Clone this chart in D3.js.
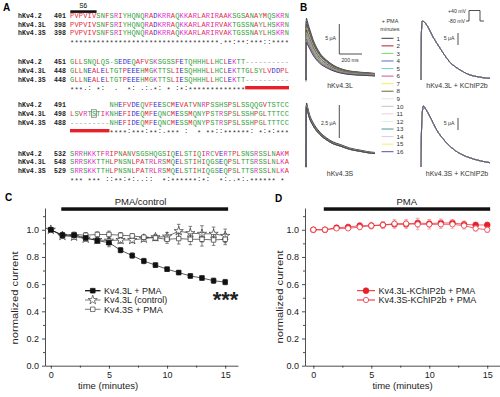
<!DOCTYPE html>
<html>
<head>
<meta charset="utf-8">
<script src="https://cdnjs.cloudflare.com/ajax/libs/d3/7.8.5/d3.min.js"></script>
<style>
    body { margin: 0; background: #fff; }
    svg { display: block; font-family: "Liberation Sans", Arial, sans-serif; }
</style>
</head>
<body>
<div id="fig"></div>
<script>

/* ---------- A: alignment ---------- */
const seqNames = ["hKv4.2", "hKv4.3L", "hKv4.3S"];
const blockStarts = [[401, 398, 398], [451, 448, 448], [491, 498, 488], [532, 548, 529]];
const blocks = [
    ["PVPVIVSNFSRIYHQNQRADKRRAQKKARLARIRAAKSGSANAYMQSKRN",
     "PVPVIVSNFSRIYHQNQRADKRRAQKKARLARIRVAKTGSSNAYLHSKRN",
     "PVPVIVSNFSRIYHQNQRADKRRAQKKARLARIRVAKTGSSNAYLHSKRN"],
    ["GLLSNQLQS-SEDEQAFVSKSGSSFETQHHHLLHCLEKTT----------",
     "GLLNEALELTGTPEEEHMGKTTSLIESQHHHLLHCLEKTTGLSYLVDDPL",
     "GLLNEALELTGTPEEEHMGKTTSLIESQHHHLLHCLEKTT----------"],
    ["         NHEFVDEQVFEESCMEVATVNRPSSHSPSLSSQQGVTSTCC",
     "LSVRTSTIKNHEFIDEQMFEQNCMESSMQNYPSTRSPSLSSHPGLTTTCC",
     "---------NHEFIDEQMFEQNCMESSMQNYPSTRSPSLSSHPGLTTTCC"],
    ["SRRHKKTFRIPNANVSGSHQGSIQELSTIQIRCVERTPLSNSRSSLNAKM",
     "SRRSKKTTHLPNSNLPATRLRSMQELSTIHIQGSEQPSLTTSRSSLNLKA",
     "SRRSKKTTHLPNSNLPATRLRSMQELSTIHIQGSEQPSLTTSRSSLNLKA"]
];
const consensus = [
    "**********************************.**:**:***::****",
    "***.: *:  .  *: .:.*: * :*:*************          ",
    "         ****:***:**:.*** :  * **::******: *:*:***",
    "*** *** ::**:*:..::  *:******:*:  *:..*:.****** * "
];
// 19-aa insert of the long isoform (block, first col, last col)
const insertMarks = [[1, 40, 50], [2, 0, 9]];

/* ---------- B: current traces ---------- */
const legendMinutes = [1, 2, 3, 4, 5, 6, 7, 8, 9, 10, 11, 12, 13, 14, 15, 16];
const traceColors = ["#3c3c3c", "#b0202e", "#6ee06e", "#5a6cc0", "#68d4c4", "#c45a98", "#f2f060", "#6c6a38",
                     "#e6e6e6", "#c4c4c4", "#f0cede", "#dcf0f0", "#4e9494", "#d6cce8", "#f4f070", "#5c4ca0"];
const timeL = [0, 2, 4, 10, 20, 35, 60, 90, 120, 180, 235, 300, 380, 470, 555, 600];
const currL = [0, 9.5, 10.3, 9.9, 9.2, 8.3, 6.8, 5.5, 4.5, 3.3, 2.5, 1.9, 1.5, 1.3, 1.17, 1.1];
const timeS = [0, 2, 5, 15, 30, 60, 120, 180, 235, 300, 380, 470, 555, 600];
const currS = [0, 4.5, 4.85, 4.5, 4.0, 3.4, 2.65, 2.2, 1.9, 1.7, 1.44, 1.28, 1.14, 1.1];
const timeLK = [0, 4, 10, 25, 50, 105, 165, 250, 340, 425, 500, 570, 600];
const currLK = [0, 20, 24.6, 24.3, 22.9, 17.9, 13.3, 7.5, 4.2, 2.1, 1.3, 0.8, 0.7];
const timeSK = [0, 6, 20, 40, 78, 137, 224, 311, 398, 513, 600];
const currSK = [0, 18, 25.4, 24.2, 21, 15.4, 10, 6.4, 4.3, 2.6, 1.8];

/* ---------- C / D: normalized current vs time ---------- */
const minutes = [0, 1, 2, 3, 4, 5, 6, 7, 8, 9, 10, 11, 12, 13, 14, 15];
const kv43lPma     = [1.0, 0.96, 0.96, 0.94, 0.92, 0.905, 0.85, 0.81, 0.77, 0.74, 0.71, 0.685, 0.66, 0.645, 0.625, 0.615];
const kv43lPmaErr  = [0, 0.02, 0.015, 0.015, 0.02, 0.03, 0.02, 0.02, 0.02, 0.015, 0.015, 0.015, 0.015, 0.015, 0.02, 0.02];
const kv43lCtrl    = [1.0, 0.955, 0.95, 0.935, 0.925, 0.92, 0.925, 0.925, 0.935, 0.945, 0.95, 0.99, 0.975, 0.97, 0.97, 0.955];
const kv43lCtrlErr = [0, 0.02, 0.02, 0.02, 0.025, 0.03, 0.025, 0.02, 0.02, 0.02, 0.03, 0.05, 0.05, 0.06, 0.05, 0.05];
const kv43sPma     = [1.0, 0.96, 0.965, 0.96, 0.965, 0.965, 0.96, 0.955, 0.945, 0.94, 0.93, 0.935, 0.93, 0.93, 0.925, 0.93];
const kv43sPmaErr  = [0, 0.015, 0.015, 0.02, 0.02, 0.025, 0.02, 0.015, 0.015, 0.02, 0.03, 0.04, 0.04, 0.05, 0.04, 0.04];
const kv43lKPma    = [1.0, 1.0, 1.015, 1.02, 1.03, 1.03, 1.035, 1.04, 1.04, 1.05, 1.045, 1.05, 1.05, 1.04, 1.035, 1.035];
const kv43lKPmaErr = [0, 0.01, 0.015, 0.02, 0.02, 0.025, 0.025, 0.03, 0.03, 0.035, 0.03, 0.03, 0.025, 0.025, 0.02, 0.02];
const kv43sKPma    = [1.0, 1.0, 1.01, 1.01, 1.02, 1.03, 1.035, 1.045, 1.045, 1.04, 1.04, 1.04, 1.04, 1.03, 1.01, 1.0];
const kv43sKPmaErr = [0, 0.01, 0.01, 0.015, 0.02, 0.02, 0.025, 0.03, 0.03, 0.04, 0.035, 0.03, 0.03, 0.025, 0.02, 0.02];
const yTicks = [0, 0.2, 0.4, 0.6, 0.8, 1.0];
const yMinor = [0.1, 0.3, 0.5, 0.7, 0.9, 1.1];
const xTicks = [0, 5, 10, 15];
const xMinor = [2.5, 7.5, 12.5];
const pmaPeriod = [0.9, 15.25];

const svg = d3.select("#fig").append("svg")
    .attr("width", 500)
    .attr("height", 397);

svg.append("rect").attr("width", 500).attr("height", 397).attr("fill", "#fff");

function panelLabel(txt, x, y) {
    svg.append("text")
        .attr("x", x).attr("y", y)
        .attr("font-size", 10).attr("font-weight", "bold")
        .text(txt);
}

/* ================= panel A ================= */
const gA = svg.append("g").attr("font-family", "'Liberation Mono', 'DejaVu Sans Mono', monospace");
const seqX0 = 70, charW = 4.38, rowGap = 8.6;
const blockY = [15.7, 62, 105, 153.3];

function residueColor(c) {
    if ("AVFPMILW".includes(c)) return "#e52a3c";
    if ("DE".includes(c)) return "#2b2bd2";
    if ("RK".includes(c)) return "#de34d2";
    if ("STYHCNGQ".includes(c)) return "#2f9e3a";
    return "#9a9a9a";
}

panelLabel("A", 3, 11);

// S6 segment
gA.append("rect")
    .attr("x", seqX0 + 0.3).attr("y", 10.3)
    .attr("width", 6 * charW).attr("height", 2.6)
    .attr("fill", "#111");
gA.append("text")
    .attr("x", seqX0 + 3 * charW).attr("y", 7.6)
    .attr("text-anchor", "middle")
    .attr("font-family", "'Liberation Sans', Arial, sans-serif")
    .attr("font-size", 6.5)
    .text("S6");

blocks.forEach(function(blk, b) {
    blk.forEach(function(s, r) {
        let y = blockY[b] + r * rowGap + 2.4;
        gA.append("text")
            .attr("x", 18).attr("y", y)
            .attr("font-size", 6.6).attr("font-weight", "bold").attr("fill", "#222")
            .text(seqNames[r]);
        gA.append("text")
            .attr("x", 54).attr("y", y)
            .attr("font-size", 6.6).attr("font-weight", "bold").attr("fill", "#222")
            .text(blockStarts[b][r]);

        let chars = s.split("").map((c, i) => ({c: c, i: i})).filter(d => d.c !== " ");
        gA.append("g").selectAll("text")
            .data(chars)
            .join("text")
            .attr("x", d => seqX0 + d.i * charW + charW / 2)
            .attr("y", y)
            .attr("text-anchor", "middle")
            .attr("font-size", 7)
            .attr("fill", d => residueColor(d.c))
            .text(d => d.c);
    });

    let cy = blockY[b] + 3 * rowGap;
    let cons = consensus[b].split("").map((c, i) => ({c: c, i: i})).filter(d => d.c !== " ");
    gA.append("g").selectAll("text")
        .data(cons)
        .join("text")
        .attr("x", d => seqX0 + d.i * charW + charW / 2)
        .attr("y", d => d.c === "*" ? cy + 3.8 : cy + 2.2)
        .attr("text-anchor", "middle")
        .attr("font-size", 7)
        .attr("fill", "#333")
        .text(d => d.c);
});

insertMarks.forEach(function(m) {
    gA.append("rect")
        .attr("x", seqX0 + m[1] * charW)
        .attr("y", blockY[m[0]] + 3 * rowGap - 1.8)
        .attr("width", (m[2] - m[1]) * charW)
        .attr("height", 3.4)
        .attr("fill", "#e8202a");
});

// boxed residue in the insert
gA.append("rect")
    .attr("x", seqX0 + 5 * charW - 0.4)
    .attr("y", blockY[2] + rowGap - 3.8)
    .attr("width", charW + 0.8).attr("height", 7.4)
    .attr("fill", "none").attr("stroke", "#555").attr("stroke-width", 0.6);

/* ================= panel B ================= */
panelLabel("B", 300, 11);
const gB = svg.append("g");

// scaleVals: normalized amplitude per minute (null = recordings overlap)
function drawFamily(times, curr, scaleVals, xr, yBase, pxPerUnit, dark) {
    let x = d3.scaleLinear().domain([0, 600]).range(xr);
    let y = d3.scaleLinear().domain([0, 1]).range([yBase, yBase - pxPerUnit]);
    let line = d3.line()
        .x(d => x(d[0]))
        .y(d => y(d[1]))
        .curve(d3.curveMonotoneX);
    legendMinutes.forEach(function(m, k) {
        let amp = scaleVals ? scaleVals[m - 1] : 1;
        gB.append("path")
            .attr("d", line(times.map((t, i) => [t, curr[i] * amp])))
            .attr("fill", "none")
            .attr("stroke", d3.color(traceColors[k]).darker(dark))
            .attr("stroke-width", 0.9);
    });
}

drawFamily(timeL, currL, kv43lPma, [306, 375], 80, 6, 1.1);
drawFamily(timeS, currS, kv43sPma, [306, 375], 167, 13.2, 1.1);
drawFamily(timeLK, currLK, null, [421, 490], 80, 2.4, 0.4);
drawFamily(timeSK, currSK, null, [421, 490], 167, 2.4, 0.4);

// small baseline marks
[[306, 80], [306, 166]].forEach(function(p) {
    gB.append("line")
        .attr("x1", p[0]).attr("x2", p[0])
        .attr("y1", p[1] - 1.5).attr("y2", p[1] + 1.5)
        .attr("stroke", "#555").attr("stroke-width", 0.9);
});

// scale bars
gB.append("path")
    .attr("d", "M339.3,24 V54 H362")
    .attr("fill", "none").attr("stroke", "#222").attr("stroke-width", 0.8);
gB.append("line").attr("x1", 339.3).attr("x2", 339.3).attr("y1", 105).attr("y2", 138)
    .attr("stroke", "#222").attr("stroke-width", 0.8);
gB.append("line").attr("x1", 458).attr("x2", 458).attr("y1", 33).attr("y2", 45)
    .attr("stroke", "#222").attr("stroke-width", 0.8);
gB.append("line").attr("x1", 458).attr("x2", 458).attr("y1", 118).attr("y2", 130)
    .attr("stroke", "#222").attr("stroke-width", 0.8);

const smallTxt = [
    ["5 \u03bcA", 336, 40],
    ["200 ms", 350, 62],
    ["2.5 \u03bcA", 336, 125],
    ["5 \u03bcA", 454.5, 40],
    ["5 \u03bcA", 454.5, 125]
];
smallTxt.forEach(function(t) {
    gB.append("text")
        .attr("x", t[1]).attr("y", t[2])
        .attr("text-anchor", t[0] === "200 ms" ? "middle" : "end")
        .attr("font-size", 5.2).attr("fill", "#333")
        .text(t[0]);
});

const traceNames = [
    ["hKv4.3L", 340, 87.5],
    ["hKv4.3S", 340, 176],
    ["hKv4.3L + KChIP2b", 457, 87.5],
    ["hKv4.3S + KChIP2b", 457, 176]
];
traceNames.forEach(function(t) {
    gB.append("text")
        .attr("x", t[1]).attr("y", t[2])
        .attr("text-anchor", "middle")
        .attr("font-size", 7).attr("fill", "#333")
        .text(t[0]);
});

// voltage protocol
gB.append("path")
    .attr("d", "M466,21 H469 V10.5 H480 V21 H484")
    .attr("fill", "none").attr("stroke", "#222").attr("stroke-width", 0.8);
gB.append("text").attr("x", 466).attr("y", 12.5).attr("text-anchor", "end")
    .attr("font-size", 5.2).attr("fill", "#333").text("+40 mV");
gB.append("text").attr("x", 465).attr("y", 23).attr("text-anchor", "end")
    .attr("font-size", 5.2).attr("fill", "#333").text("-80 mV");

// legend
gB.append("text").attr("x", 390).attr("y", 22.5).attr("text-anchor", "middle")
    .attr("font-size", 5.5).attr("fill", "#333").text("+ PMA");
gB.append("text").attr("x", 390).attr("y", 30.5).attr("text-anchor", "middle")
    .attr("font-size", 5.5).attr("fill", "#333").text("minutes");

const legY = d3.scaleLinear().domain([1, 16]).range([38.3, 151.7]);
legendMinutes.forEach(function(m, k) {
    gB.append("line")
        .attr("x1", 381.5).attr("x2", 393.5)
        .attr("y1", legY(m)).attr("y2", legY(m))
        .attr("stroke", traceColors[k]).attr("stroke-width", 1);
    gB.append("text")
        .attr("x", 396.5).attr("y", legY(m) + 2.2)
        .attr("font-size", 6.2).attr("fill", "#333")
        .text(m);
});

/* ================= panels C and D ================= */
function axes(g, x, y, yAxisX) {
    g.append("g")
        .attr("transform", `translate(${yAxisX},0)`)
        .call(d3.axisLeft(y).tickValues(yTicks).tickFormat(d3.format(".1f")).tickSize(3).tickSizeOuter(0))
        .call(a => a.selectAll("text").attr("font-size", 9).attr("fill", "#222"));
    g.append("g")
        .attr("transform", `translate(${yAxisX},0)`)
        .call(d3.axisLeft(y).tickValues(yMinor).tickFormat("").tickSize(2).tickSizeOuter(0))
        .call(a => a.select(".domain").remove());
    g.append("g")
        .attr("transform", `translate(0,${y(0)})`)
        .call(d3.axisBottom(x).tickValues(xTicks).tickSize(3).tickSizeOuter(0))
        .call(a => a.selectAll("text").attr("font-size", 9).attr("fill", "#222"));
    g.append("g")
        .attr("transform", `translate(0,${y(0)})`)
        .call(d3.axisBottom(x).tickValues(xMinor).tickFormat("").tickSize(2).tickSizeOuter(0))
        .call(a => a.select(".domain").remove());
    g.selectAll(".domain, .tick line").attr("stroke", "#222").attr("stroke-width", 0.8);
}

function series(g, x, y, vals, errs, sym, size, fill, stroke, errColor) {
    g.append("path")
        .datum(vals)
        .attr("d", d3.line().x((d, i) => x(minutes[i])).y(d => y(d)))
        .attr("fill", "none").attr("stroke", stroke).attr("stroke-width", 0.7);
    let eb = g.append("g").attr("stroke", errColor).attr("stroke-width", 0.6);
    vals.forEach(function(v, i) {
        if (!errs[i]) return;
        let cx = x(minutes[i]);
        eb.append("line").attr("x1", cx).attr("x2", cx).attr("y1", y(v - errs[i])).attr("y2", y(v + errs[i]));
        eb.append("line").attr("x1", cx - 1.8).attr("x2", cx + 1.8).attr("y1", y(v + errs[i])).attr("y2", y(v + errs[i]));
        eb.append("line").attr("x1", cx - 1.8).attr("x2", cx + 1.8).attr("y1", y(v - errs[i])).attr("y2", y(v - errs[i]));
    });
    g.append("g").selectAll("path")
        .data(vals)
        .join("path")
        .attr("transform", (d, i) => `translate(${x(minutes[i])},${y(d)})`)
        .attr("d", d3.symbol().type(sym).size(size))
        .attr("fill", fill).attr("stroke", stroke).attr("stroke-width", 0.7);
}

function legendRow(g, x1, x2, yy, sym, size, fill, stroke, lw, label) {
    g.append("line").attr("x1", x1).attr("x2", x2).attr("y1", yy).attr("y2", yy)
        .attr("stroke", stroke).attr("stroke-width", lw);
    g.append("path").attr("transform", `translate(${(x1 + x2) / 2},${yy})`)
        .attr("d", d3.symbol().type(sym).size(size))
        .attr("fill", fill).attr("stroke", stroke).attr("stroke-width", 0.7);
    g.append("text").attr("x", x2 + 3.5).attr("y", yy + 3.2)
        .attr("font-size", 9).attr("fill", "#222").text(label);
}

function titles(g, xc, yc, xLabel, title, titleX, x, y) {
    g.append("text")
        .attr("transform", `translate(${xc},${yc}) rotate(-90)`)
        .attr("text-anchor", "middle").attr("dy", "0.35em")
        .attr("font-size", 9.5).attr("fill", "#222")
        .attr("textLength", 93).attr("lengthAdjust", "spacingAndGlyphs")
        .text("normalized current");
    g.append("text")
        .attr("x", xLabel).attr("y", 388.5)
        .attr("text-anchor", "middle")
        .attr("font-size", 9.5).attr("fill", "#222")
        .text("time (minutes)");
    g.append("rect")
        .attr("x", x(pmaPeriod[0])).attr("y", 207.3)
        .attr("width", x(pmaPeriod[1]) - x(pmaPeriod[0])).attr("height", 3.5)
        .attr("fill", "#111");
    g.append("text")
        .attr("x", titleX).attr("y", 204.5)
        .attr("text-anchor", "middle")
        .attr("font-size", 9.5).attr("fill", "#222")
        .text(title);
}

// ---- C
panelLabel("C", 5, 200.5);
const gC = svg.append("g");
const xC = d3.scaleLinear().domain([-0.5, 16.1]).range([45, 238]);
const yC = d3.scaleLinear().domain([0, 1.16]).range([365.7, 208]);
axes(gC, xC, yC, 45);
titles(gC, 15, 298, 108, "PMA/control", 140.5, xC, yC);

series(gC, xC, yC, kv43lCtrl, kv43lCtrlErr, d3.symbolStar, 26, "#fff", "#333", "#333");
series(gC, xC, yC, kv43sPma, kv43sPmaErr, d3.symbolSquare, 20, "#fff", "#333", "#333");
series(gC, xC, yC, kv43lPma, kv43lPmaErr, d3.symbolSquare, 22, "#111", "#111", "#333");

legendRow(gC, 85, 100.5, 290.7, d3.symbolSquare, 22, "#111", "#111", 1.3, "Kv4.3L + PMA");
legendRow(gC, 85, 100.5, 300, d3.symbolStar, 26, "#fff", "#444", 0.7, "Kv4.3L (control)");
legendRow(gC, 85, 100.5, 309.3, d3.symbolSquare, 20, "#fff", "#444", 0.7, "Kv4.3S + PMA");

gC.append("text")
    .attr("x", 225.5).attr("y", 307)
    .attr("text-anchor", "middle")
    .attr("font-size", 22).attr("font-weight", "bold").attr("fill", "#222")
    .text("***");

// ---- D
panelLabel("D", 275, 202);
const gD = svg.append("g");
const xD = d3.scaleLinear().domain([-0.72, 16.1]).range([305, 500]);
const yD = d3.scaleLinear().domain([0, 1.16]).range([365.7, 208]);
axes(gD, xD, yD, 305);
titles(gD, 280, 297, 402.5, "PMA", 406.7, xD, yD);

series(gD, xD, yD, kv43lKPma, kv43lKPmaErr, d3.symbolCircle, 26, "#e8202a", "#e8202a", "#f08a8a");
series(gD, xD, yD, kv43sKPma, kv43sKPmaErr, d3.symbolCircle, 22, "#fff", "#e8202a", "#f08a8a");

legendRow(gD, 357, 375, 290.7, d3.symbolCircle, 26, "#e8202a", "#e8202a", 1, "Kv4.3L-KChIP2b + PMA");
legendRow(gD, 357, 375, 300, d3.symbolCircle, 22, "#fff", "#e8202a", 1, "Kv4.3S-KChIP2b + PMA");

</script>
</body>
</html>
